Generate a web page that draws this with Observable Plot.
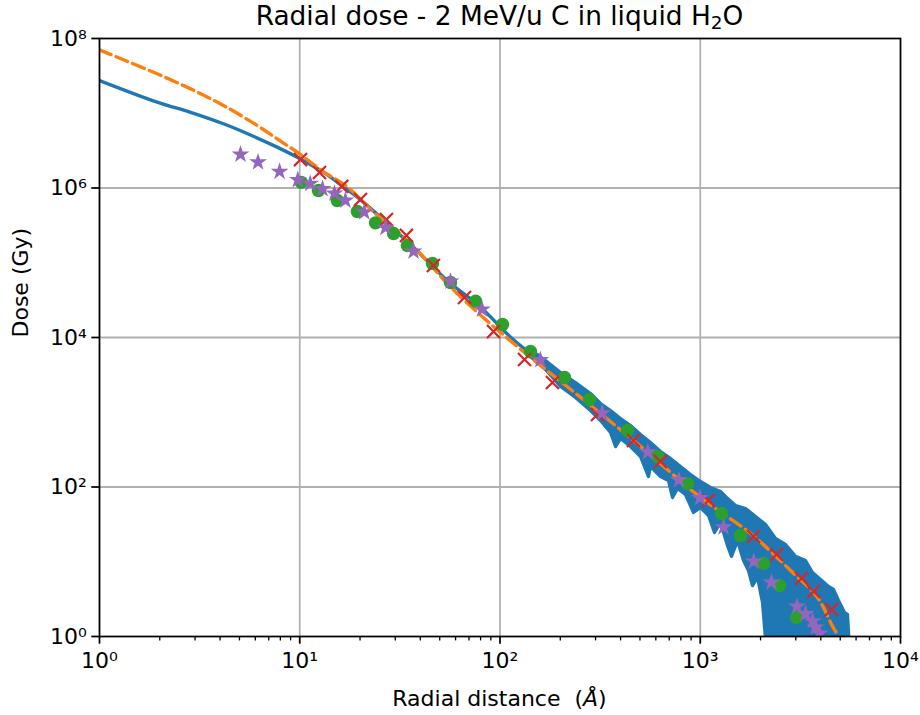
<!DOCTYPE html>
<html><head><meta charset="utf-8">
<script src="https://cdn.jsdelivr.net/npm/d3@7"></script>
<script src="https://cdn.jsdelivr.net/npm/@observablehq/plot@0.6"></script>
<style>
body{margin:0;background:#fff;font-family:"DejaVu Sans",sans-serif;color:#000;width:920px;height:715px;overflow:hidden;}
#title{height:30px;line-height:31px;font-size:26.4px;margin-left:99px;width:801px;text-align:center;white-space:nowrap;}
#title sub{font-size:0.7em;vertical-align:-0.22em;line-height:0;}
#xlabel{margin-top:6px;height:26px;line-height:26px;font-size:22px;margin-left:99px;width:801px;text-align:center;white-space:pre;}
</style>
</head><body>
<div id="title">Radial dose - 2 MeV/u C in liquid H<sub>2</sub>O</div>
<div id="chart"></div>
<div id="xlabel">Radial distance  (<i>Å</i>)</div>
<script>
// ---- data ----
const blueX = [1, 1.94, 2.85, 4.16, 5.90, 7.71, 9.71, 13.1, 16.0, 19.4, 25.3, 37.0, 54.5, 80.0, 113, 142];
const blueY = [2.74e7, 1.41e7, 1.03e7, 7.23e6, 4.89e6, 3.52e6, 2.58e6, 1.63e6, 1.11e6, 7.54e5, 4.07e5, 1.61e5, 5.79e4, 2.54e4, 1.01e4, 6.1e3];

// noisy part of the blue curve: upper and lower envelope of the band
const bandUpperX = [142.0, 168.7, 200.5, 238.2, 283.1, 317.6, 356.3, 399.7, 448.4, 503.0, 564.4, 633.1, 710.3, 796.9, 894.1, 1003, 1125, 1262, 1352, 1500, 1683, 1888, 2118, 2376, 2666, 2990, 3354, 3635, 3986, 4370, 4629, 4902, 5253, 5438, 5564];
const bandUpperY = [6911, 4924, 3402, 2500, 1781, 1310, 1055, 825, 665, 504, 394, 298.5, 241, 188, 147, 118.5, 98.5, 87.1, 72.4, 56.6, 51.6, 40.3, 31.5, 20.5, 17.0, 11.8, 10.4, 7.18, 5.79, 4.67, 4.25, 3.03, 2.09, 1.97, 0.65];
const bandLowerX = [142.0, 168.7, 200.5, 238.2, 283.1, 317.6, 356.3, 377.5, 399.7, 448.4, 503.0, 551.5, 564.4, 633.1, 694.1, 726.8, 769.9, 843.9, 925.3, 1003, 1099.7, 1178, 1262, 1368, 1432, 1535, 1644, 1741, 1823, 1932, 2046, 2142, 5564];
const bandLowerY = [5569, 3732, 2211, 1575, 1055, 775, 536, 348, 445, 348, 256, 138, 188, 138, 122, 72.4, 95.5, 79.4, 45.6, 53.2, 41.6, 24.6, 33.5, 16.5, 11.8, 19.2, 10.4, 7.64, 4.81, 6.16, 2.85, 0.65, 0.65];

const orangeX = [1, 1.318, 1.94, 2.85, 4.16, 6.13, 7.71, 9.71, 13.1, 17.3, 23.4, 34.4, 61.1, 117, 252, 484, 1003, 1782, 2826, 3840, 4560, 4900];
const orangeY = [7.06e7, 5.19e7, 3.37e7, 2.12e7, 1.27e7, 6.86e6, 4.55e6, 3.01e6, 1.66e6, 1.03e6, 4.74e5, 1.99e5, 3.88e4, 8.3e3, 1.59e3, 382, 72.4, 23.9, 7.64, 3.36, 1.40, 1.0];

const greenX = [10.17, 12.4, 15.4, 19.4, 23.9, 29.4, 34.5, 46.0, 56.6, 75.5, 102.9, 142, 210, 280, 433, 612, 864, 1277, 1588, 2070, 2489, 3026];
const greenY = [1.19e6, 9.26e5, 6.81e5, 4.85e5, 3.42e5, 2.46e5, 1.70e5, 9.8e4, 5.44e4, 3.05e4, 1.49e4, 6.5e3, 2.92e3, 1.48e3, 570, 256, 111, 44.2, 22.5, 9.5, 4.81, 1.80];

const redX = [10.09, 12.55, 16.2, 20.1, 27.1, 34.1, 46.5, 66.5, 92.8, 132.6, 182.8, 306.8, 464, 632, 1099, 1846, 2404, 3206, 3680, 4521];
const redY = [2.40e6, 1.61e6, 1.05e6, 7.0e5, 3.79e5, 2.32e5, 9.2e4, 3.43e4, 1.20e4, 5.08e3, 2.50e3, 933, 419, 219, 66, 21.8, 12.5, 5.97, 4.0, 2.30];

const starX = [5.06, 6.19, 7.93, 9.78, 11.28, 13.0, 14.9, 16.9, 21.0, 26.8, 37.0, 56.6, 81.3, 159, 324, 547, 782, 997, 1307, 1851, 2268, 3042, 3357, 3639, 3770, 3943];
const starY = [2.81e6, 2.21e6, 1.66e6, 1.28e6, 1.14e6, 9.75e5, 8.44e5, 6.81e5, 4.75e5, 2.94e5, 1.42e5, 5.61e4, 2.37e4, 5.03e3, 971, 292, 124, 71.3, 29.0, 10.1, 5.28, 2.52, 2.01, 1.61, 1.32, 1.10];

const xTicks = [1, 10, 100, 1000, 10000];
const yTicks = [1, 1e2, 1e4, 1e6, 1e8];
const xGrid = [10, 100, 1000];
const yGrid = [1e2, 1e4, 1e6];
const yLabel = "Dose (Gy)";

// ---- build tables ----
const zip = (xs, ys) => xs.map((x, i) => ({x, y: ys[i]}));
const blue = zip(blueX, blueY);
const band = zip(bandUpperX, bandUpperY).concat(zip(bandLowerX, bandLowerY).reverse());
const orange = zip(orangeX, orangeY);
const green = zip(greenX, greenY);
const red = zip(redX, redY);
const stars = zip(starX, starY);
const minorX = [];
for (const d of [1, 10, 100, 1000]) for (let m = 2; m <= 9; m++) minorX.push(m * d);

const supDigits = "⁰¹²³⁴⁵⁶⁷⁸⁹";
const fmt = v => "10" + String(Math.round(Math.log10(v))).split("").map(c => supDigits[+c]).join("");

const C = {blue: "#1f77b4", orange: "#ff7f0e", green: "#2ca02c", red: "#d62728", purple: "#9467bd", grid: "#b0b0b0"};

const chart = Plot.plot({
  width: 920, height: 650,
  marginLeft: 99, marginRight: 20, marginTop: 8, marginBottom: 44,
  x: {type: "log", domain: [1, 1e4]},
  y: {type: "log", domain: [1, 1e8]},
  style: {fontFamily: "DejaVu Sans", fontSize: "22px", color: "black", background: "white", overflow: "visible"},
  marks: [
    Plot.ruleX(xGrid, {x: d => d, stroke: C.grid, strokeWidth: 1.76}),
    Plot.ruleY(yGrid, {y: d => d, stroke: C.grid, strokeWidth: 1.76}),
    Plot.line(band, {x: "x", y: "y", fill: C.blue, stroke: C.blue, strokeWidth: 3.3, strokeLinejoin: "round", clip: true}),
    Plot.line(blue, {x: "x", y: "y", stroke: C.blue, strokeWidth: 3.4, curve: "catmull-rom", clip: true}),
    Plot.line(orange, {x: "x", y: "y", stroke: C.orange, strokeWidth: 3.4, strokeDasharray: "12.5,5.5", curve: "catmull-rom", clip: true}),
    Plot.dot(green, {x: "x", y: "y", r: 6.7, fill: C.green, stroke: null, clip: true}),
    Plot.dot(red, {x: "x", y: "y", symbol: "times", r: 6.0, stroke: C.red, strokeWidth: 2.2, clip: true}),
    Plot.dot(stars, {x: "x", y: "y", symbol: "star", r: 5.6, fill: C.purple, stroke: null, clip: true}),
    Plot.frame({stroke: "black", strokeWidth: 1.76}),
    Plot.axisX(minorX, {tickSize: 4.4, strokeWidth: 1.3, tickFormat: () => "", label: null}),
    Plot.axisX(xTicks, {tickSize: 7.7, tickPadding: 7.7, strokeWidth: 1.76, tickFormat: fmt, label: null}),
    Plot.axisY(yTicks, {tickSize: 7.7, tickPadding: 5, strokeWidth: 1.76, tickFormat: fmt, label: null}),
    Plot.text([yLabel], {frameAnchor: "left", dx: -79, rotate: -90, text: d => d, fontSize: 22})
  ]
});
document.getElementById("chart").appendChild(chart);
</script>
</body></html>
